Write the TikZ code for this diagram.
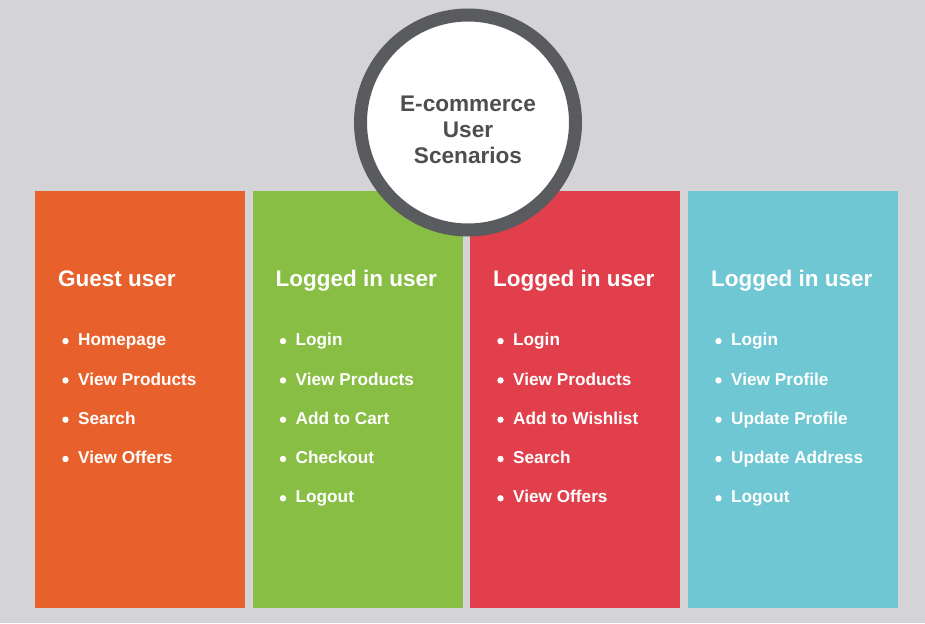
\documentclass[tikz,border=0pt]{standalone}
\usepackage{fontspec}
\setmainfont{Liberation Sans}
\definecolor{bgc}{HTML}{D4D3D5}
\definecolor{corange}{HTML}{E8612C}
\definecolor{cgreen}{HTML}{87BE43}
\definecolor{cred}{HTML}{E03F4B}
\definecolor{ccyan}{HTML}{6EC7D3}
\definecolor{ringc}{HTML}{595B5E}
\definecolor{titlec}{HTML}{4D4E50}
\begin{document}
\begin{tikzpicture}[x=1pt,y=-1pt,
  colbox/.style={rectangle,inner sep=0pt,outer sep=0pt,minimum width=210pt,minimum height=417pt,anchor=north west},
  headtxt/.style={anchor=base west,inner sep=0pt,text=white,font=\fontsize{22.5}{26}\selectfont\bfseries},
  itemtxt/.style={anchor=base west,inner sep=0pt,text=white,font=\fontsize{17.2}{20}\selectfont\bfseries},
  bdot/.style={circle,fill=white,inner sep=0pt,minimum size=6.4pt},
  ttltxt/.style={anchor=base,inner sep=0pt,text=titlec,font=\fontsize{22.6}{26}\selectfont\bfseries}]
\fill[bgc] (0,0) rectangle (925,623);
\useasboundingbox (0,0) rectangle (925,623);
% columns
\node[colbox,fill=corange] (c1) at (35,191) {};
\node[colbox,fill=cgreen] (c2) at (252.5,191) {};
\node[colbox,fill=cred] (c3) at (470,191) {};
\node[colbox,fill=ccyan] (c4) at (688,191) {};
% headings
\node[headtxt] (h1) at (58,286) {Guest user};
\node[headtxt] (h2) at (275.5,286) {Logged in user};
\node[headtxt] (h3) at (493,286) {Logged in user};
\node[headtxt] (h4) at (711,286) {Logged in user};
% items
\foreach \col/\x/\list in {
  1/35/{Homepage,View Products,Search,View Offers},
  2/252.5/{Login,View Products,Add to Cart,Checkout,Logout},
  3/470/{Login,View Products,Add to Wishlist,Search,View Offers},
  4/688/{Login,View Profile,Update Profile,Update Address,Logout}}{
  \foreach \it [count=\i] in \list {
    \pgfmathsetmacro{\yy}{345.7+39.3*(\i-1)}
    \node[bdot] (d\col-\i) at (\x+30.5,\yy-4.6) {};
    \node[itemtxt] (t\col-\i) at (\x+43,\yy) {\it};
  }
}
% title circle
\node[circle,draw=ringc,line width=13pt,fill=white,minimum size=215pt,inner sep=0pt] (ttl) at (468,122.5) {};
\node[ttltxt] (tl1) at (468,111.7) {E-commerce};
\node[ttltxt] (tl2) at (468,137.2) {User};
\node[ttltxt] (tl3) at (468,163) {Scenarios};
\end{tikzpicture}
\end{document}
